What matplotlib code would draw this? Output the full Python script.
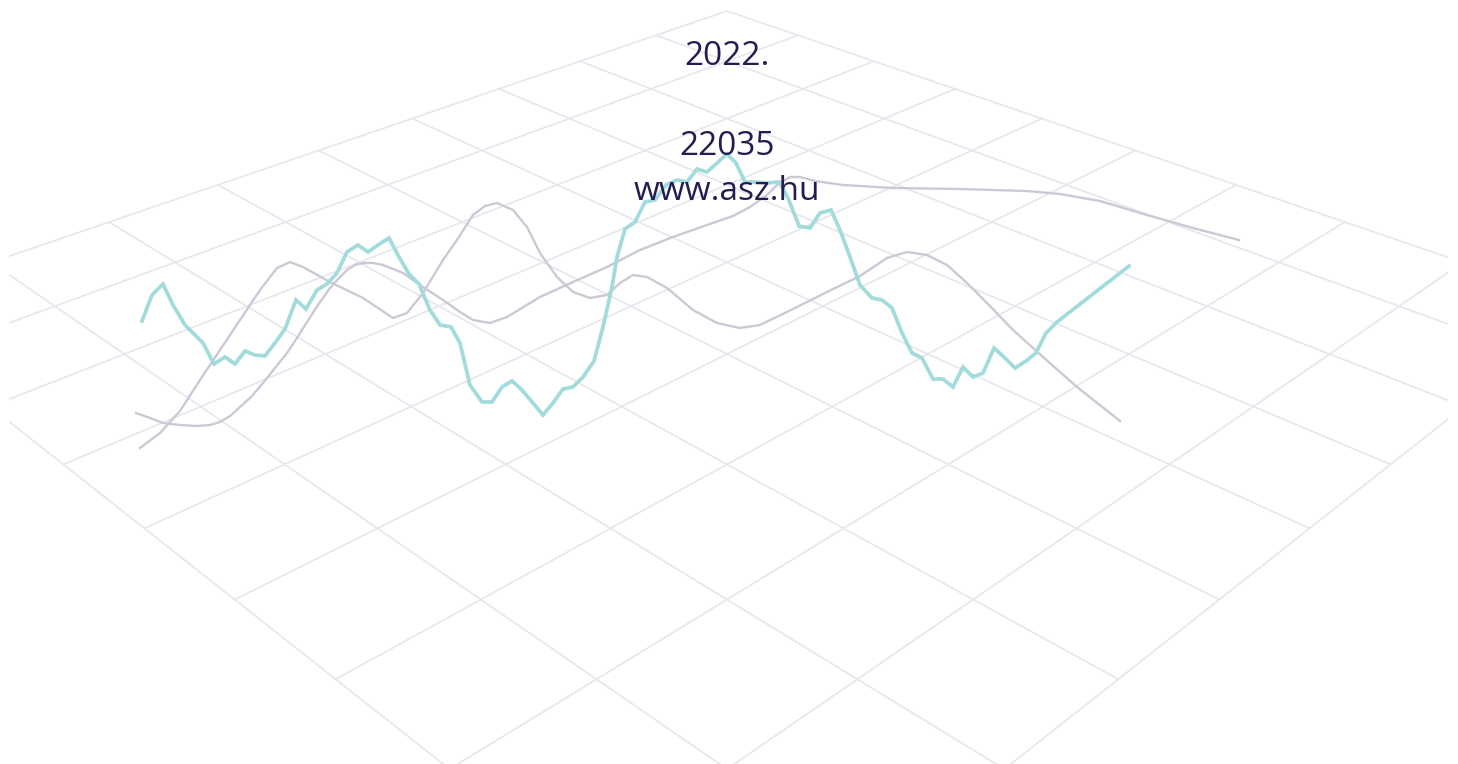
import matplotlib
matplotlib.use("Agg")
import matplotlib.pyplot as plt
from matplotlib.patches import Rectangle

# ---------------- data (screen units) ----------------
teal_x = [142, 152, 163, 173, 185, 203, 214, 225, 235, 245, 255, 265, 275, 285, 296, 306,
          317, 327, 337, 347, 358, 368, 378, 389, 399, 409, 419, 430, 440, 451, 460, 470,
          482, 492, 502, 512, 522, 533, 543, 553, 563, 573, 583, 594, 603, 612, 617, 625,
          635, 645, 655, 666, 677, 687, 697, 707, 717, 727, 736, 745, 757, 767, 779, 788,
          799, 810, 820, 831, 840, 850, 860, 872, 882, 892, 902, 912, 922, 933, 943, 953,
          963, 973, 983, 994, 1005, 1015, 1026, 1036, 1046, 1057, 1129]
teal_y = [321, 295, 284, 305, 325, 343, 364, 357, 364, 351, 355, 356, 343, 329, 300, 309,
          290, 284, 273, 252, 245, 252, 245, 238, 257, 274, 284, 310, 325, 327, 343, 385,
          402, 402, 387, 381, 390, 403, 415, 403, 389, 387, 377, 361, 327, 287, 257, 229,
          222, 202, 200, 185, 180, 182, 169, 172, 163, 154, 163, 182, 182, 183, 182, 198,
          226, 228, 213, 210, 230, 257, 285, 298, 300, 308, 333, 353, 358, 379, 379, 387,
          367, 377, 373, 348, 358, 368, 361, 353, 333, 322, 266]

gray1_x = [140, 160, 180, 200, 220, 240, 260, 277, 290, 303, 330, 363, 393, 407, 423, 443,
           457, 473, 485, 497, 513, 527, 540, 557, 573, 590, 607, 620, 633, 647, 667, 693,
           717, 740, 760, 793, 827, 860, 887, 907, 927, 947, 967, 987, 1013, 1043, 1077, 1120]
gray1_y = [448, 433, 411, 380, 350, 320, 290, 268, 262, 267, 282, 298, 318, 313, 293, 260,
           240, 215, 206, 203, 210, 227, 253, 277, 292, 298, 295, 283, 275, 277, 288, 310,
           323, 328, 325, 309, 292, 276, 258, 252, 255, 265, 283, 303, 330, 357, 387, 421]

gray2_x = [136, 150, 163, 180, 197, 210, 220, 230, 240, 252, 263, 275, 287, 297, 307, 318,
           330, 340, 347, 355, 363, 373, 383, 403, 423, 443, 460, 473, 490, 507, 540, 573,
           607, 640, 673, 707, 733, 750, 767, 778, 790, 800, 815, 843, 893, 960, 1027, 1060,
           1100, 1147, 1193, 1239]
gray2_y = [413, 418, 423, 425, 426, 425, 422, 416, 407, 396, 383, 368, 353, 338, 322, 305,
           288, 277, 270, 265, 263, 263, 265, 273, 287, 300, 312, 320, 323, 317, 297, 282,
           267, 250, 237, 225, 216, 207, 195, 184, 177, 177, 181, 185, 188, 189, 191, 194,
           201, 215, 228, 240]

title_lines = ["2022.", "22035", "www.asz.hu"]

# ---------------- figure ----------------
W, H = 1458, 764
fig = plt.figure(figsize=(W / 100, H / 100), dpi=100)
ax = fig.add_axes([0, 0, 1, 1])
ax.set_xlim(0, W)
ax.set_ylim(H, 0)
ax.axis("off")

# perspective floor grid (9 x 9 cells, far corner at top)
N = 9
CX, Y0, A, B, C = 727.0, 11.0, 68.8, 23.5, -0.0315


def proj(u, v):
    s = u + v
    den = 1 + C * s
    return CX + A * (u - v) / den, Y0 + B * s / den


clip = Rectangle((9, 0), 1439, H, transform=ax.transData, facecolor="none", edgecolor="none")
ax.add_patch(clip)
grid_color = "#e7e5ee"
for k in range(N + 1):
    for (p, q) in [((k, 0), (k, N)), ((0, k), (N, k))]:
        x1, y1 = proj(*p)
        x2, y2 = proj(*q)
        ln, = ax.plot([x1, x2], [y1, y2], color=grid_color, lw=1.2, zorder=1,
                      solid_capstyle="butt")
        ln.set_clip_path(clip)

# curves
ax.plot(gray1_x, gray1_y, color="#ccc8d6", lw=1.7, zorder=2, solid_joinstyle="round")
ax.plot(gray2_x, gray2_y, color="#ccc8d6", lw=1.7, zorder=2, solid_joinstyle="round")
ax.plot(teal_x, teal_y, color="#a2dbdb", lw=2.7, zorder=3, solid_joinstyle="miter")

# texts
txt_color = "#231b51"
baselines = [65, 155, 200]
for t, yb in zip(title_lines, baselines):
    ax.text(727, yb, t, ha="center", va="baseline", fontsize=24,
            family=["Open Sans", "DejaVu Sans"], color=txt_color, zorder=4)

fig.savefig("out.png", dpi=100, facecolor="white")
